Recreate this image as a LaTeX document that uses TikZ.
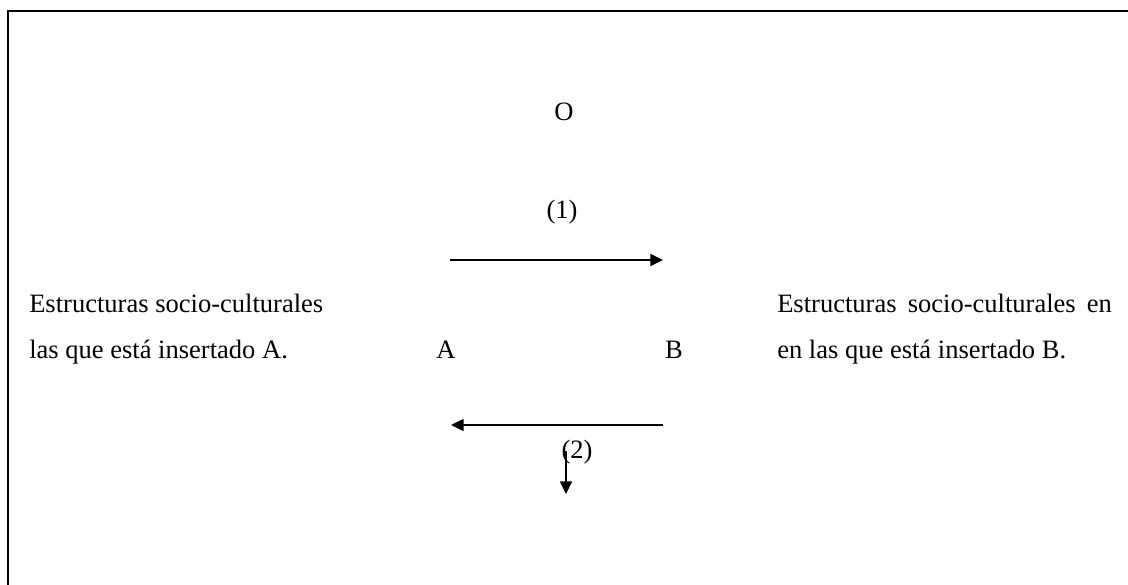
\documentclass[tikz,border=0pt]{standalone}
\usepackage{fontspec}
\setmainfont{Liberation Serif}
\usetikzlibrary{arrows.meta}
\begin{document}
\begin{tikzpicture}[x=0.75pt,y=-0.75pt,
  lbl/.style={inner sep=0pt,font=\fontsize{19.9}{24}\selectfont},
  conn/.style={line width=1.1pt,-{Triangle[length=9.5pt,width=9pt]}},
  frame/.style={line width=1.6pt}]
\useasboundingbox (0,0) rectangle (1128,585);
\draw[frame] (1130,11) -- (8,11) -- (8,587);
% texts
\node[lbl,anchor=base] (O) at (564,120) {O};
\node[lbl,anchor=base] (n1) at (562,218) {(1)};
\node[lbl,anchor=base west] (la1) at (29,312) {Estructuras socio-culturales};
\node[lbl,anchor=base west] (la2) at (29,358) {las que está insertado A.};
\node[lbl,anchor=base] (A) at (446,358) {A};
\node[lbl,anchor=base] (B) at (674,358) {B};
\node[lbl,anchor=base west] (rb1) at (777,312) {\makebox[251pt][s]{Estructuras socio-culturales en}};
\node[lbl,anchor=base west] (rb2) at (777,358) {en las que está insertado B.};
\node[lbl,anchor=base] (n2) at (577,458) {(2)};
% connectors
\coordinate (a1s) at (450,260);
\coordinate (a1e) at (663,260);
\coordinate (a2s) at (663,425);
\coordinate (a2e) at (451,425);
\coordinate (a3s) at (566,451);
\coordinate (a3e) at (566,494);
\draw[conn] (a1s) -- (a1e);
\draw[conn] (a2s) -- (a2e);
\draw[conn] (a3s) -- (a3e);
\end{tikzpicture}
\end{document}
